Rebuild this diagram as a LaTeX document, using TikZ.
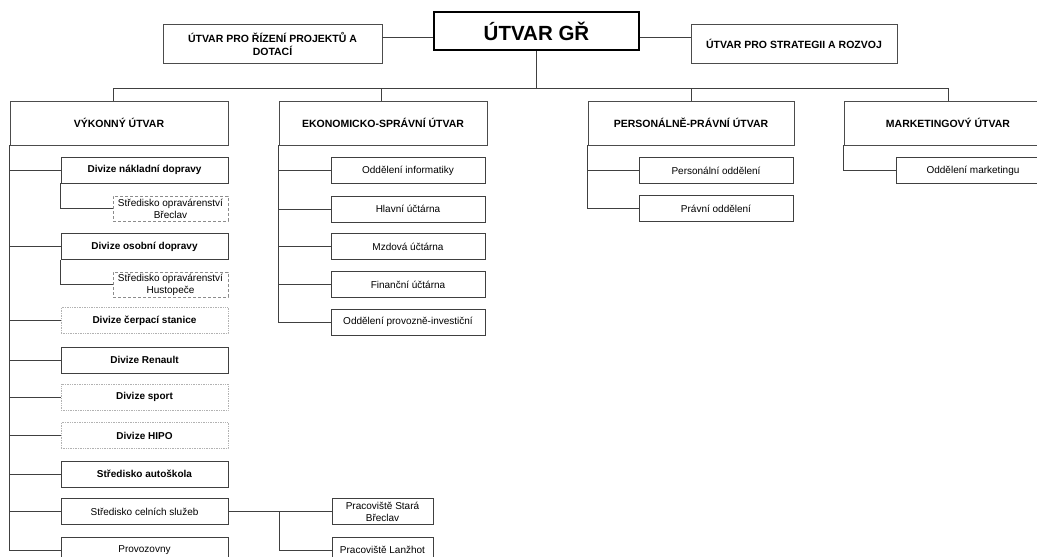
\documentclass[tikz,border=0pt]{standalone}
\usepackage{fontspec}
\setmainfont{Liberation Sans}
\usepackage{tikz}
\usetikzlibrary{calc}

\begin{document}
\begin{tikzpicture}[x=1pt, y=-1pt,
  link/.style={draw=black!75, line width=0.7pt},
  headbox/.style={draw=black, line width=2.4pt, fill=white, minimum width=205, minimum height=38, inner sep=0pt, font=\fontsize{20.5}{22}\selectfont\bfseries},
  unitbox/.style={draw=black!70, line width=0.7pt, fill=white, inner sep=0pt, align=center, font=\fontsize{10.5}{13}\selectfont\bfseries},
  divbox/.style={draw=black!75, line width=0.7pt, fill=white, inner sep=0pt, align=center, minimum height=26, font=\fontsize{10}{12}\selectfont\bfseries},
  dotbox/.style={divbox, draw=black!30, densely dotted},
  deptbox/.style={divbox, font=\fontsize{10}{12}\selectfont},
  dashbox/.style={deptbox, draw=black!45, densely dashed}
]
\useasboundingbox (0,0) rectangle (1037,557);

% Top: general director and staff units
\node[headbox] (gr) at (536.5,31) {ÚTVAR GŘ};
\node[unitbox, minimum width=219, minimum height=39] (projekty) at (272.5,43.5) {ÚTVAR PRO ŘÍZENÍ PROJEKTŮ A\\DOTACÍ};
\node[unitbox, minimum width=206, minimum height=39] (strategie) at (794,43.5) {ÚTVAR PRO STRATEGII A ROZVOJ};
\draw[link] ([yshift=-6pt]gr.west) -- ([yshift=-6pt]gr.west -| projekty.east);
\draw[link] ([yshift=-6pt]gr.east) -- ([yshift=-6pt]gr.east -| strategie.west);

% Second level units
\node[unitbox, minimum width=218, minimum height=44] (vykonny) at (119,123) {VÝKONNÝ ÚTVAR};
\node[unitbox, minimum width=208, minimum height=44] (ekonom) at (383,123) {EKONOMICKO-SPRÁVNÍ ÚTVAR};
\node[unitbox, minimum width=206, minimum height=44] (personal) at (691,123) {PERSONÁLNĚ-PRÁVNÍ ÚTVAR};
\node[unitbox, minimum width=208, minimum height=44] (marketing) at (948,123) {MARKETINGOVÝ ÚTVAR};

\coordinate (bus) at (536.5,88);
\draw[link] (gr.south) -- (bus);
\draw[link] ([xshift=-6pt]vykonny.north) |- (bus);
\draw[link] ([xshift=-2pt]ekonom.north) |- (bus);
\foreach \u in {personal,marketing}
  \draw[link] (\u.north) |- (bus);

% Výkonný útvar
\node[divbox, minimum width=167] (nakladni) at (144.5,170) {Divize nákladní dopravy};
\node[dashbox, minimum width=115, minimum height=25] (strbreclav) at (170.5,208.5) {Středisko opravárenství\\Břeclav};
\node[divbox, minimum width=167] (osobni) at (144.5,246.5) {Divize osobní dopravy};
\node[dashbox, minimum width=115, minimum height=25] (strhustopece) at (170.5,284.5) {Středisko opravárenství\\Hustopeče};
\node[dotbox, minimum width=167] (cerpaci) at (144.5,320.5) {Divize čerpací stanice};
\node[divbox, minimum width=167] (renault) at (144.5,360) {Divize Renault};
\node[dotbox, minimum width=167] (sport) at (144.5,397) {Divize sport};
\node[dotbox, minimum width=167] (hipo) at (144.5,435.5) {Divize HIPO};
\node[divbox, minimum width=167] (autoskola) at (144.5,474) {Středisko autoškola};
\node[deptbox, minimum width=167] (celni) at (144.5,511.5) {Středisko celních služeb};
\node[deptbox, minimum width=167] (provozovny) at (144.5,550) {Provozovny};

\foreach \n in {nakladni,osobni,cerpaci,renault,sport,hipo,autoskola,celni,provozovny}
  \draw[link] (vykonny.south west) |- (\n.west);
\draw[link] (nakladni.south west) |- (strbreclav.west);
\draw[link] (osobni.south west) |- (strhustopece.west);

% Pracoviště celních služeb
\node[deptbox, minimum width=101] (stara) at (382.5,511.5) {Pracoviště Stará\\Břeclav};
\node[deptbox, minimum width=101] (lanzhot) at (382.5,550) {Pracoviště Lanžhot};
\coordinate (celnibr) at (279,511.5);
\draw[link] (celni.east) -- (stara.west);
\draw[link] (celnibr) |- (lanzhot.west);

% Ekonomicko-správní útvar
\node[deptbox, minimum width=154] (informatika) at (408,170.5) {Oddělení informatiky};
\node[deptbox, minimum width=154] (hlavni) at (408,209) {Hlavní účtárna};
\node[deptbox, minimum width=154] (mzdova) at (408,246.5) {Mzdová účtárna};
\node[deptbox, minimum width=154] (financni) at (408,284.5) {Finanční účtárna};
\node[deptbox, minimum width=154] (investicni) at (408,322) {Oddělení provozně-investiční};
\foreach \n in {informatika,hlavni,mzdova,financni,investicni}
  \draw[link] (ekonom.south west) |- (\n.west);

% Personálně-právní útvar
\node[deptbox, minimum width=154] (personalni) at (716,170.5) {Personální oddělení};
\node[deptbox, minimum width=154] (pravni) at (716,208.5) {Právní oddělení};
\foreach \n in {personalni,pravni}
  \draw[link] (personal.south west) |- (\n.west);

% Marketingový útvar
\node[deptbox, minimum width=154] (oddmarketing) at (973,170.5) {Oddělení marketingu};
\draw[link] (marketing.south west) |- (oddmarketing.west);

\end{tikzpicture}
\end{document}
